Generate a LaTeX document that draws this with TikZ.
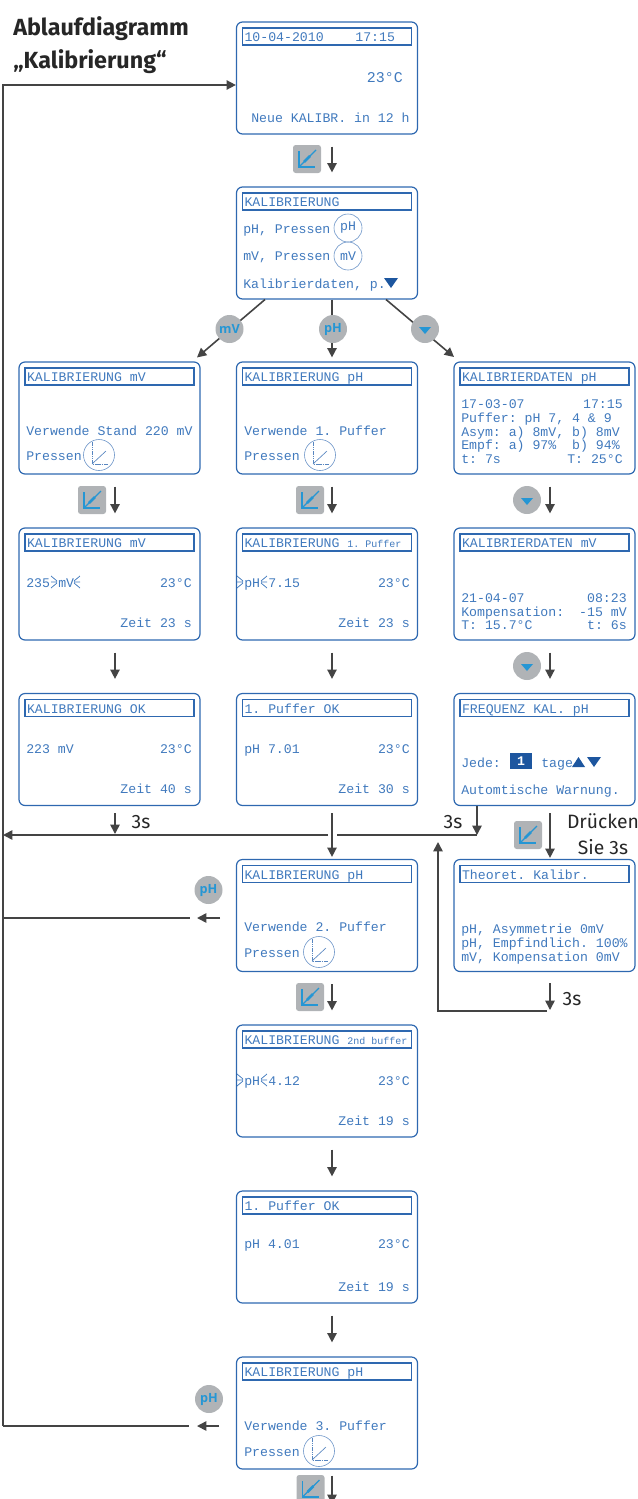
\documentclass[tikz,border=0pt]{standalone}
\usepackage{fontspec}
\setmainfont{Fira Sans}
\setmonofont{Liberation Mono}
\newfontfamily\keyfont{Open Sans}
\usetikzlibrary{arrows.meta}
\definecolor{lcdblue}{HTML}{4079BD}
\definecolor{framblue}{HTML}{2E68B0}
\definecolor{darkblue}{HTML}{1D569F}
\definecolor{keyblue}{HTML}{2596D4}
\definecolor{keygrey}{HTML}{B0B3B6}
\definecolor{flowgrey}{HTML}{444444}
\tikzset{
  lcdscreen/.style={draw=framblue, line width=0.9pt, rounded corners=4.5pt, minimum width=135.75pt, minimum height=84pt, inner sep=0pt},
  lcdbar/.style={draw=framblue, line width=1pt, anchor=north, text=lcdblue, font=\ttfamily\fontsize{9.9}{10}\selectfont, text width=123.75pt, align=flush left, inner xsep=1.5pt, inner ysep=1.375pt, text height=9pt, text depth=1pt},
  lcdtext/.style={text=lcdblue, font=\ttfamily\fontsize{9.9}{10}\selectfont, inner sep=0pt, anchor=base west},
  lcdright/.style={lcdtext, anchor=base east},
  lcdround/.style={circle, draw=framblue!70, line width=0.45pt, minimum size=21pt, inner sep=0pt, text=lcdblue, font=\ttfamily\fontsize{9.9}{10}\selectfont},
  softkey/.style={circle, fill=keygrey, text=keyblue, minimum size=21pt, inner sep=0pt, font=\keyfont\bfseries\fontsize{9.5}{10}\selectfont},
  flowline/.style={color=flowgrey, line width=1.2pt},
  flow/.style={flowline, -{Triangle[length=7pt,width=7pt]}},
  flowgap/.style={shorten <=9pt, shorten >=10.5pt},
  heading/.style={font=\bfseries\fontsize{17.5}{18}\selectfont, text=black!85, inner sep=0pt, anchor=base west},
  note/.style={font=\fontsize{14.5}{15}\selectfont, text=black!85, inner sep=0pt},
  calkey/.pic={
    \fill[keygrey, rounded corners=2pt] (-14,-14) rectangle (14,14);
    \draw[keyblue, line width=1.2pt] (-8,-8) -- (-8,8) -- (8,8);
    \draw[keyblue, line width=0.9pt] (-8,8) -- (9,-9);
    \draw[keyblue, line width=2pt] (-3,3) -- (3,-3);
  },
  calicon/.pic={
    \draw[framblue!80, line width=0.5pt, dash pattern=on 1.2pt off 0.5pt] (-7,-13) -- (-7,9) -- (9,9);
    \draw[framblue!80, line width=0.5pt] (-7,9) -- (7,-4);
  },
  flashleft/.pic={
    \draw[lcdblue, line width=0.55pt] (-4,-6) -- (2,-1) (-4,0) -- (2,0) (-4,6) -- (2,1);
  },
  flashright/.pic={
    \draw[lcdblue, line width=0.55pt] (4,-6) -- (-2,-1) (4,0) -- (-2,0) (4,6) -- (-2,1);
  },
}

\begin{document}
\begin{tikzpicture}[x=0.75pt, y=-0.75pt, line cap=butt, line join=miter]
\useasboundingbox (0,0) rectangle (638,1499);
\clip (0,0) rectangle (638,1499);

% screens
\node[lcdscreen] (lcdHome) at (327,78) {};
\node[lcdscreen] (lcdMenu) at (327,243) {};
\node[lcdscreen] (lcdMvStart) at (109.5,418) {};
\node[lcdscreen] (lcdPhStart) at (327,418) {};
\node[lcdscreen] (lcdDataPh) at (544.5,418) {};
\node[lcdscreen] (lcdMvRun) at (109.5,584) {};
\node[lcdscreen] (lcdPhRun) at (327,584) {};
\node[lcdscreen] (lcdDataMv) at (544.5,584) {};
\node[lcdscreen] (lcdMvOk) at (109.5,749.5) {};
\node[lcdscreen] (lcdPhOk) at (327,749.5) {};
\node[lcdscreen] (lcdFreq) at (544.5,749.5) {};
\node[lcdscreen] (lcdPhTwo) at (327,915.5) {};
\node[lcdscreen] (lcdTheo) at (544.5,915.5) {};
\node[lcdscreen] (lcdRunTwo) at (327,1081) {};
\node[lcdscreen] (lcdOkTwo) at (327,1247) {};
\node[lcdscreen] (lcdPhThree) at (327,1413) {};

% title bars
\node[lcdbar] (barHome) at ([yshift=-4.5pt]lcdHome.north) {10-04-2010\ \ \ \ 17:15};
\node[lcdbar] (barMenu) at ([yshift=-4.5pt]lcdMenu.north) {KALIBRIERUNG};
\node[lcdbar] (barMvStart) at ([yshift=-4.5pt]lcdMvStart.north) {KALIBRIERUNG mV};
\node[lcdbar] (barPhStart) at ([yshift=-4.5pt]lcdPhStart.north) {KALIBRIERUNG pH};
\node[lcdbar] (barDataPh) at ([yshift=-4.5pt]lcdDataPh.north) {KALIBRIERDATEN pH};
\node[lcdbar] (barMvRun) at ([yshift=-4.5pt]lcdMvRun.north) {KALIBRIERUNG mV};
\node[lcdbar] (barPhRun) at ([yshift=-4.5pt]lcdPhRun.north) {KALIBRIERUNG {\fontsize{7.5}{8}\selectfont 1. Puffer}};
\node[lcdbar] (barDataMv) at ([yshift=-4.5pt]lcdDataMv.north) {KALIBRIERDATEN mV};
\node[lcdbar] (barMvOk) at ([yshift=-4.5pt]lcdMvOk.north) {KALIBRIERUNG OK};
\node[lcdbar] (barPhOk) at ([yshift=-4.5pt]lcdPhOk.north) {1. Puffer OK};
\node[lcdbar] (barFreq) at ([yshift=-4.5pt]lcdFreq.north) {FREQUENZ KAL. pH};
\node[lcdbar] (barPhTwo) at ([yshift=-4.5pt]lcdPhTwo.north) {KALIBRIERUNG pH};
\node[lcdbar] (barTheo) at ([yshift=-4.5pt]lcdTheo.north) {Theoret. Kalibr.};
\node[lcdbar] (barRunTwo) at ([yshift=-4.5pt]lcdRunTwo.north) {KALIBRIERUNG {\fontsize{7.5}{8}\selectfont 2nd buffer}};
\node[lcdbar] (barOkTwo) at ([yshift=-4.5pt]lcdOkTwo.north) {1. Puffer OK};
\node[lcdbar] (barPhThree) at ([yshift=-4.5pt]lcdPhThree.north) {KALIBRIERUNG pH};

% screen texts
\node[lcdright, font=\ttfamily\fontsize{11.2}{12}\selectfont] (homeTemp) at (403,82) {23°C};
\node[lcdtext] (homeNext) at (251,122) {Neue KALIBR. in 12 h};

\node[lcdtext] (menuPh) at (243,233) {pH, Pressen};
\node[lcdround] (menuPhKey) at (348,228) {pH};
\node[lcdtext] (menuMv) at (243,260) {mV, Pressen};
\node[lcdround] (menuMvKey) at (348,256) {mV};
\node[lcdtext] (menuData) at (243,288) {Kalibrierdaten, p.};
\fill[darkblue] (384,278) -- (398,278) -- (391,288) -- cycle;

\node[lcdtext] (mvUse) at (26,435) {Verwende Stand 220 mV};
\node[lcdtext] (mvPress) at (26,460) {Pressen};
\node[lcdround, minimum size=23.25pt] (mvCal) at (99,455) {};
\pic at (mvCal) {calicon};

\node[lcdtext] (phUse) at (244,435) {Verwende 1. Puffer};
\node[lcdtext] (phPress) at (244,460) {Pressen};
\node[lcdround, minimum size=23.25pt] (phCal) at (320,455) {};
\pic at (phCal) {calicon};

\node[lcdtext] (dataDate) at (461,408) {17-03-07};
\node[lcdright] (dataTime) at (623,408) {17:15};
\node[lcdtext] (dataBuf) at (461,422) {Puffer: pH 7, 4 \& 9};
\node[lcdtext] (dataAsym) at (461,436) {Asym: a) 8mV, b) 8mV};
\node[lcdtext] (dataEmpf) at (461,449) {Empf: a) 97\%};
\node[lcdright] (dataEmpfB) at (620,449) {b) 94\%};
\node[lcdtext] (dataT) at (461,463) {t: 7s};
\node[lcdright] (dataTemp) at (623,463) {T: 25°C};

\node[lcdtext] (mvVal) at (26,587) {235};
\pic at (55,582) {flashleft};
\node[lcdtext] (mvUnit) at (58,587) {mV};
\pic at (76,582) {flashright};
\node[lcdright] (mvTemp) at (192,587) {23°C};
\node[lcdright] (mvTime) at (192,627) {Zeit 23 s};

\pic at (241,582) {flashleft};
\node[lcdtext] (phUnit) at (244,587) {pH};
\pic at (263,582) {flashright};
\node[lcdtext] (phVal) at (268,587) {7.15};
\node[lcdright] (phTemp) at (410,587) {23°C};
\node[lcdright] (phTime) at (410,627) {Zeit 23 s};

\node[lcdtext] (dmvDate) at (461,602) {21-04-07};
\node[lcdright] (dmvTime) at (627,602) {08:23};
\node[lcdtext] (dmvComp) at (461,616) {Kompensation:};
\node[lcdright] (dmvCompVal) at (627,616) {-15 mV};
\node[lcdtext] (dmvT) at (461,629) {T: 15.7°C};
\node[lcdright] (dmvTs) at (627,629) {t: 6s};

\node[lcdtext] (okMv) at (26,753) {223 mV};
\node[lcdright] (okMvTemp) at (192,753) {23°C};
\node[lcdright] (okMvTime) at (192,793) {Zeit 40 s};

\node[lcdtext] (okPh) at (244,753) {pH 7.01};
\node[lcdright] (okPhTemp) at (410,753) {23°C};
\node[lcdright] (okPhTime) at (410,793) {Zeit 30 s};

\node[lcdtext] (freqEach) at (461,767) {Jede:};
\node[fill=darkblue, text=white, minimum width=16.5pt, minimum height=12pt, inner sep=0pt, font=\ttfamily\bfseries\fontsize{9.9}{10}\selectfont] (freqVal) at (521,761) {1};
\node[lcdtext] (freqDays) at (541,767) {tage};
\fill[darkblue] (572,767) -- (585,767) -- (578.5,757) -- cycle;
\fill[darkblue] (587,757) -- (601,757) -- (594,767) -- cycle;
\node[lcdtext] (freqWarn) at (461,794) {Automtische Warnung.};

\node[lcdtext] (twoUse) at (244,931) {Verwende 2. Puffer};
\node[lcdtext] (twoPress) at (244,957) {Pressen};
\node[lcdround, minimum size=23.25pt] (twoCal) at (319,952) {};
\pic at (twoCal) {calicon};

\node[lcdtext] (theoAsym) at (461,933) {pH, Asymmetrie 0mV};
\node[lcdtext] (theoEmpf) at (461,947) {pH, Empfindlich. 100\%};
\node[lcdtext] (theoComp) at (461,961) {mV, Kompensation 0mV};

\pic at (241,1080) {flashleft};
\node[lcdtext] (runUnit) at (244,1085) {pH};
\pic at (263,1080) {flashright};
\node[lcdtext] (runVal) at (268,1085) {4.12};
\node[lcdright] (runTemp) at (410,1085) {23°C};
\node[lcdright] (runTime) at (410,1125) {Zeit 19 s};

\node[lcdtext] (okTwoVal) at (244,1248) {pH 4.01};
\node[lcdright] (okTwoTemp) at (410,1248) {23°C};
\node[lcdright] (okTwoTime) at (410,1291) {Zeit 19 s};

\node[lcdtext] (threeUse) at (244,1430) {Verwende 3. Puffer};
\node[lcdtext] (threePress) at (244,1456) {Pressen};
\node[lcdround, minimum size=23.25pt] (threeCal) at (319,1451) {};
\pic at (threeCal) {calicon};

% headings
\node[heading] (headOne) at (13,35) {Ablaufdiagramm};
\node[heading] (headTwo) at (13,68) {„Kalibrierung“};

% free ends
\coordinate (railTop) at (3,85);
\coordinate (railBottom) at (3,1426);
\coordinate (railMain) at (3,835);
\coordinate (railGapL) at (328,835);
\coordinate (railGapR) at (337,835);
\coordinate (railEnd) at (477,835);
\coordinate (outMv) at (265,299.5);
\coordinate (tipMv) at (197,357.5);
\coordinate (outData) at (386,299.5);
\coordinate (tipData) at (454,357);
\coordinate (backCorner) at (438,1011);
\coordinate (backTip) at (438,842);
\coordinate (backEnd) at (547,1011);
\coordinate (backDown) at (550,1010);
\coordinate (endThree) at (332,1504);

% arrows
\draw[flow] (railBottom) -- (railTop) -- (lcdHome.west |- railTop);
\draw[flowline] (railBottom) -- (189,1426);
\draw[flow] (219,1426) -- (197,1426);
\draw[flowline] (3,918) -- (190,918);
\draw[flow] (220,918) -- (197,918);
\draw[flow] (railGapL) -- (railMain);
\draw[flowline] (railGapR) -- (railEnd);
\draw[flow] (backEnd) -- (backCorner) -- (backTip);

\draw[flow, flowgap] ([xshift=3.75pt]lcdHome.south) -- ([xshift=3.75pt]lcdMenu.north);
\draw[flow] (outMv) -- (tipMv);
\draw[flow, shorten >=3pt] (lcdMenu.south -| 332,0) -- (lcdPhStart.north -| 332,0);
\draw[flow] (outData) -- (tipData);

\draw[flow, flowgap] ([xshift=4.125pt]lcdMvStart.south) -- ([xshift=4.125pt]lcdMvRun.north);
\draw[flow, flowgap] ([xshift=3.75pt]lcdPhStart.south) -- ([xshift=3.75pt]lcdPhRun.north);
\draw[flow, flowgap] ([xshift=4.125pt]lcdDataPh.south) -- ([xshift=4.125pt]lcdDataMv.north);
\draw[flow, flowgap] ([xshift=4.125pt]lcdMvRun.south) -- ([xshift=4.125pt]lcdMvOk.north);
\draw[flow, flowgap] ([xshift=3.75pt]lcdPhRun.south) -- ([xshift=3.75pt]lcdPhOk.north);
\draw[flow, flowgap] ([xshift=4.125pt]lcdDataMv.south) -- ([xshift=4.125pt]lcdFreq.north);

\draw[flow, shorten <=5.25pt] ([xshift=4.125pt]lcdMvOk.south) -- (115,834);
\draw[flow, shorten <=5.25pt, shorten >=1.5pt] ([xshift=3.75pt]lcdPhOk.south) -- ([xshift=3.75pt]lcdPhTwo.north);
\draw[flow] (lcdFreq.south -| railEnd) -- (railEnd);
\draw[flow, shorten <=5.25pt, shorten >=0.75pt] ([xshift=4.125pt]lcdFreq.south) -- ([xshift=4.125pt]lcdTheo.north);
\draw[flow, shorten <=8.25pt] ([xshift=4.125pt]lcdTheo.south) -- (backDown);

\draw[flow, flowgap] ([xshift=3.75pt]lcdPhTwo.south) -- ([xshift=3.75pt]lcdRunTwo.north);
\draw[flow, flowgap] ([xshift=3.75pt]lcdRunTwo.south) -- ([xshift=3.75pt]lcdOkTwo.north);
\draw[flow, flowgap] ([xshift=3.75pt]lcdOkTwo.south) -- ([xshift=3.75pt]lcdPhThree.north);
\draw[flow, shorten <=4.5pt] ([xshift=3.75pt]lcdPhThree.south) -- (endThree);

% buttons
\node[softkey] (keyMv) at (229.5,329) {mV};
\node[softkey] (keyPh) at (333,329) {pH};
\node[softkey] (keyData) at (425,329) {};
\fill[keyblue] (419,327) -- (431,327) -- (425,334) -- cycle;
\node[softkey] (keyPhTwo) at (208.5,890) {pH};
\node[softkey] (keyPhThree) at (209,1399) {pH};
\node[softkey] (keyDataTwo) at (527,500) {};
\fill[keyblue] (521,498) -- (533,498) -- (527,505) -- cycle;
\node[softkey] (keyDataThree) at (527,666) {};
\fill[keyblue] (521,664) -- (533,664) -- (527,671) -- cycle;

\pic at (307,159) {calkey};
\pic at (92,500) {calkey};
\pic at (310,500) {calkey};
\pic at (528,835) {calkey};
\pic at (310,997) {calkey};
\pic at (310.5,1489) {calkey};

% notes
\node[note] (noteLeft) at (141,822) {3s};
\node[note] (noteMid) at (453,822) {3s};
\node[note] (noteBack) at (572,999) {3s};
\node[note] (notePress) at (603,821) {Drücken};
\node[note] (noteHold) at (603,847) {Sie 3s};
\end{tikzpicture}
\end{document}
